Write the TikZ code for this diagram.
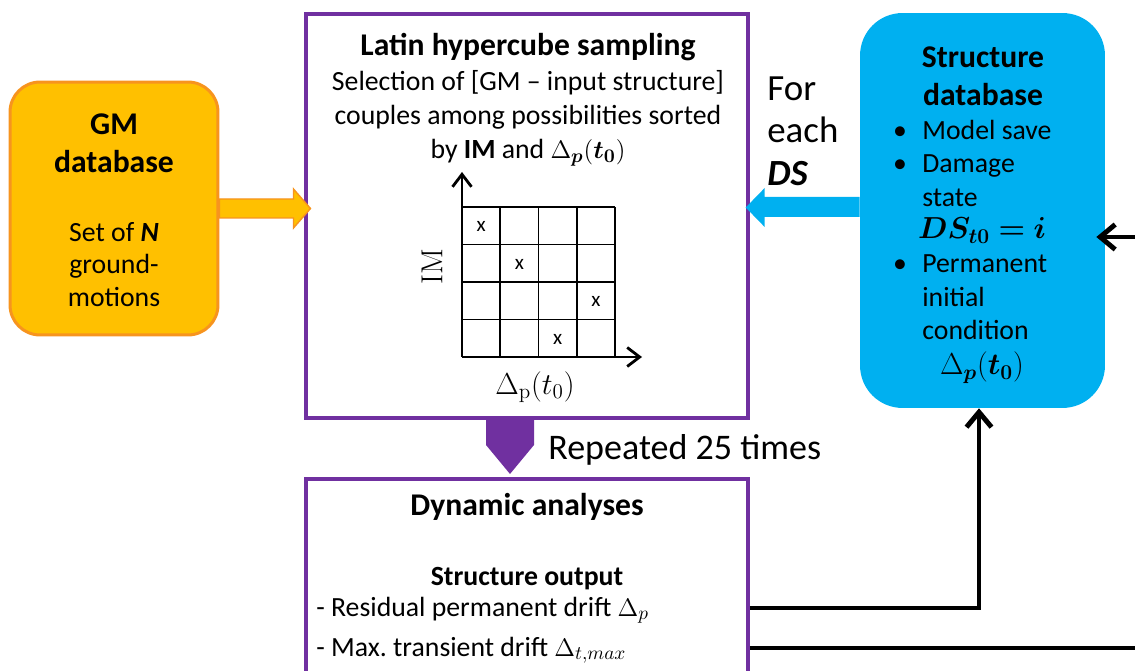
\documentclass[tikz,border=0pt]{standalone}
\usepackage[no-math]{fontspec}
\setmainfont{Carlito}
\usepackage{amsmath}
\usepackage{bm}
\usetikzlibrary{arrows.meta}
\definecolor{gmorange}{RGB}{255,192,0}
\definecolor{gmborder}{RGB}{247,148,30}
\definecolor{dbblue}{RGB}{0,176,240}
\definecolor{lhspurple}{RGB}{112,48,160}
\newcommand{\mytxt}{\fontsize{15.8}{19.3}\selectfont}
\newcommand{\myhdr}{\fontsize{18}{22}\selectfont\bfseries}
\newcommand{\mybig}{\fontsize{21}{24.4}\selectfont}

\begin{document}
\begin{tikzpicture}
  [x=0.02cm,y=-0.02cm,every node/.style={inner sep=0pt},
   purplebox/.style={draw=lhspurple,line width=2.3pt,minimum width=8.84cm},
   fb/.style={line width=2.8pt},
   barb/.style={-{Straight Barb[length=0.3cm,width=0.5cm]}}]
  \useasboundingbox (0,0) rectangle (1135,671);
  \clip (0,0) rectangle (1135,671);

  % boxes
  \node[fill=gmorange,draw=gmborder,line width=1.7pt,rounded corners=0.6cm,
        minimum width=4.16cm,minimum height=5.06cm] (gm) at (114,208.5) {};
  \node[purplebox,minimum height=8.08cm] (lhs) at (527,216) {};
  \node[fill=dbblue,rounded corners=0.85cm,
        minimum width=4.9cm,minimum height=7.9cm] (sdb) at (982.5,210.5) {};
  \node[purplebox,minimum height=4.4cm,anchor=north] (dyn) at (527,477) {};

  % GM database
  \node[anchor=north,align=center,font=\myhdr] (gmtitle) at (114,113) {GM\\database};
  \node[anchor=north,align=center,font=\fontsize{15.8}{18.5}\selectfont] (gmtext) at (114,222)
    {Set of \textbf{\textit{N}}\\ground-\\motions};

  % Latin hypercube sampling
  \node[anchor=north,font=\myhdr] (lhstitle) at (528,33) {Latin hypercube sampling};
  \node[anchor=north,align=center,font=\mytxt] (lhstext) at (528,70)
    {Selection of [GM -- input structure]\\couples among possibilities sorted\\
     by \textbf{IM} and $\Delta_{\bm{p}}(\bm{t_0})$};
  \foreach \i in {0,...,4} {
    \draw[line width=1.1pt] ({462+38.25*\i},207) -- ({462+38.25*\i},357);
    \draw[line width=1.1pt] (462,{207+37.5*\i}) -- (615,{207+37.5*\i});
  }
  \draw[line width=1.6pt,-{Straight Barb[length=0.25cm,width=0.38cm]}] (462,357) -- (462,172);
  \draw[line width=1.6pt,-{Straight Barb[length=0.25cm,width=0.38cm]}] (462,357) -- (642,357);
  \foreach \c/\r [count=\n] in {1/1,2/2,4/3,3/4}
    \node[font=\fontsize{12}{14}\selectfont] (mk\n) at ({443+38.25*\c},{208+37.5*\r-18.75}) {x};
  \node[rotate=90,font=\fontsize{16.5}{19}\selectfont] (imlab) at (432,267) {$\mathrm{IM}$};
  \node[font=\fontsize{16.5}{19}\selectfont] (dplab) at (535,387) {$\Delta_{\mathrm{p}}(t_0)$};

  % structure database
  \node[anchor=north,align=center,font=\myhdr] (sdbtitle) at (983,46) {Structure\\database};
  \foreach \yy/\lbl in {140/Model save,173/Damage,207/state,273/Permanent,307/initial,340/condition}
    \node[anchor=base west,font=\mytxt] (sl\yy) at (922,\yy) {\lbl};
  \foreach \yy in {140,173,273}
    \node[anchor=base,font=\mytxt] (bu\yy) at (900,\yy) {\textbullet};
  \node[anchor=base,font=\fontsize{17}{20}\selectfont] (dsi) at (982,239) {$\bm{DS_{t0}=i}$};
  \node[anchor=base,font=\fontsize{17}{20}\selectfont] (dpt) at (982,375) {$\Delta_{\bm{p}}(\bm{t_0})$};

  \node[anchor=north west,align=left,font=\mybig] (foreach) at (767,76) {For\\each\\\textbf{\textit{DS}}};

  % dynamic analyses
  \node[anchor=base,font=\myhdr] (dyntitle) at (527,516) {Dynamic analyses};
  \node[anchor=base,font=\mytxt\bfseries] (outtitle) at (527,585) {Structure output};
  \node[anchor=base west,font=\mytxt] (out1) at (316,616) {- Residual permanent drift $\Delta_p$};
  \node[anchor=base west,font=\mytxt] (out2) at (316,656) {- Max.\ transient drift $\Delta_{t,max}$};
  \node[anchor=base west,font=\fontsize{20.5}{24}\selectfont] (rep) at (548,460) {Repeated 25 times};

  % block arrows
  \filldraw[fill=gmorange,draw=gmborder,line width=0.8pt] (gm.east) ++(0,-9.5) -- ++(74,0) -- ++(0,-10)
    -- ++(17,19.5) -- ++(-17,19.5) -- ++(0,-10) -- ++(-74,0) -- cycle;
  \fill[dbblue] (sdb.west) ++(0,-13.5) -- ++(-95,0) -- ++(0,-9) -- ++(-19,19.5)
    -- ++(19,19.5) -- ++(0,-10) -- ++(95,0) -- cycle;
  \fill[lhspurple] (lhs.south) ++(-41,0) -- ++(0,25) -- ++(24,29) -- ++(24,-29) -- ++(0,-25) -- cycle;

  % feedback lines
  \coordinate (inr) at (1135,237);
  \coordinate (outr) at (1135,648);
  \draw[fb,barb] ([shift={(0,19)}]dyn.east) -| ([xshift=-0.07cm]sdb.south);
  \draw[fb] (dyn.east |- outr) -- (outr);
  \draw[fb,barb,shorten >=-0.18cm] (inr) -- (sdb.east |- inr);
\end{tikzpicture}
\end{document}
